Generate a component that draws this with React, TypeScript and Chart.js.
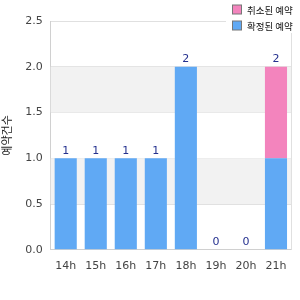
import React, { useEffect, useRef } from "react";
import { Chart, registerables } from "chart.js";
Chart.register(...registerables);

const categories = ["14h", "15h", "16h", "17h", "18h", "19h", "20h", "21h"];
const confirmedValues = [1, 1, 1, 1, 2, 0, 0, 1];
const cancelledValues = [0, 0, 0, 0, 0, 0, 0, 1];
const yTicks = [0, 0.5, 1, 1.5, 2, 2.5];
const legendLabels = ["취소된 예약", "확정된 예약"];
const yTitle = "예약건수";

const BLUE = "#60a9f4";
const PINK = "#f384bd";

const bandPlugin = {
  id: "bands",
  beforeDatasetsDraw(chart: any) {
    const { ctx, chartArea, scales } = chart;
    const y = scales.y;
    ctx.save();
    ctx.fillStyle = "#f2f2f2";
    for (let i = 0; i < yTicks.length - 1; i++) {
      if (i % 2 === 1) {
        const top = y.getPixelForValue(yTicks[i + 1]);
        const bot = y.getPixelForValue(yTicks[i]);
        ctx.fillRect(chartArea.left, top, chartArea.right - chartArea.left, bot - top);
      }
    }
    ctx.restore();
  },
};

const totalsPlugin = {
  id: "totals",
  afterDatasetsDraw(chart: any) {
    const { ctx, scales } = chart;
    const metaA = chart.getDatasetMeta(0);
    ctx.save();
    ctx.font = "11px 'DejaVu Sans', sans-serif";
    ctx.fillStyle = "#25318f";
    ctx.textAlign = "center";
    ctx.textBaseline = "bottom";
    categories.forEach((_, i) => {
      const total = confirmedValues[i] + cancelledValues[i];
      const x = metaA.data[i].x;
      const yTop = scales.y.getPixelForValue(total);
      ctx.fillText(String(total), x, yTop - 2);
    });
    ctx.restore();
  },
};

const legendPlugin = {
  id: "customLegend",
  afterDraw(chart: any) {
    const { ctx } = chart;
    ctx.save();
    ctx.fillStyle = "#ffffff";
    ctx.fillRect(226, 0, 74, 33);
    const colors = [PINK, BLUE];
    ctx.font = "9.5px 'Noto Sans CJK KR', sans-serif";
    ctx.textBaseline = "middle";
    ctx.textAlign = "left";
    legendLabels.forEach((lab, i) => {
      const y = 10 + i * 16;
      ctx.fillStyle = colors[i];
      ctx.fillRect(232.5, y - 5, 9, 9);
      ctx.strokeStyle = "#777777";
      ctx.lineWidth = 1;
      ctx.strokeRect(232.5, y - 5, 9, 9);
      ctx.fillStyle = "#111111";
      ctx.fillText(lab, 247, y);
    });
    ctx.restore();
  },
};

export default function App() {
  const ref = useRef<HTMLCanvasElement>(null);
  useEffect(() => {
    if (!ref.current) return;
    const chart = new Chart(ref.current, {
      type: "bar",
      data: {
        labels: categories,
        datasets: [
          { label: legendLabels[1], data: confirmedValues, backgroundColor: BLUE, stack: "s" },
          { label: legendLabels[0], data: cancelledValues, backgroundColor: PINK, stack: "s" },
        ],
      },
      options: {
        animation: false,
        responsive: false,
        layout: { padding: { top: 21, right: 9, left: 0, bottom: 17 } },
        plugins: { legend: { display: false }, tooltip: { enabled: false } },
        datasets: { bar: { categoryPercentage: 0.8, barPercentage: 0.92 } },
        scales: {
          x: {
            stacked: true,
            grid: { display: false, drawTicks: false },
            border: { color: "#d0d0d0" },
            ticks: { color: "#444", font: { size: 11, family: "'DejaVu Sans', sans-serif" }, padding: 10 },
          },
          y: {
            stacked: true,
            min: 0,
            max: 2.5,
            afterBuildTicks: (axis: any) => {
              axis.ticks = yTicks.map((v) => ({ value: v }));
            },
            grid: { color: "#e0e0e0", drawTicks: false },
            border: { color: "#d0d0d0" },
            ticks: {
              color: "#444",
              padding: 8,
              font: { size: 11, family: "'DejaVu Sans', sans-serif" },
              callback: (v: any) => Number(v).toFixed(1),
            },
            title: {
              display: true,
              text: yTitle,
              color: "#222",
              font: { size: 11, family: "'Noto Sans CJK KR', sans-serif" },
              padding: { top: 0, bottom: 4 },
            },
          },
        },
      },
      plugins: [bandPlugin, totalsPlugin, legendPlugin, {
        id: "rightBorder",
        afterDatasetsDraw(chart: any) {
          const { ctx, chartArea } = chart;
          ctx.save();
          ctx.strokeStyle = "#e0e0e0";
          ctx.beginPath();
          ctx.moveTo(Math.round(chartArea.right) + 0.5, chartArea.top);
          ctx.lineTo(Math.round(chartArea.right) + 0.5, chartArea.bottom);
          ctx.stroke();
          ctx.restore();
        },
      }],
    } as any);
    return () => chart.destroy();
  }, []);
  return (
    <div style={{ position: "fixed", left: 0, top: 0, width: 300, height: 300, background: "#fff" }}>
      <canvas ref={ref} width={300} height={300} style={{ width: 300, height: 300 }} />
    </div>
  );
}
